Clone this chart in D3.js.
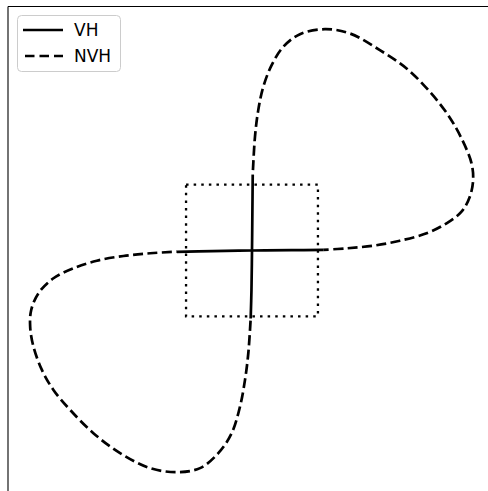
<!DOCTYPE html>
<html>
<head>
<meta charset="utf-8">
<script src="https://cdn.jsdelivr.net/npm/d3@7"></script>
<style>
  html, body { margin: 0; padding: 0; background: #ffffff; }
  svg { display: block; }
</style>
</head>
<body>
<svg id="chart" width="488" height="491"></svg>
<script>
// Central arms of the curve (VH), in data units
const vhHorizontal = [[-1.14, -0.02], [-0.6, -0.008], [0, 0], [0.6, 0.005], [1.08, 0.01]];
const vhVertical = [[0.011, 1.15], [0.006, 0.6], [0, 0], [-0.008, -0.6], [-0.02, -1.03]];

// Outer loops of the curve (NVH), in data units
const nvhUpperLoop = [
  [0.011, 1.144], [0.045, 1.724], [0.095, 2.129], [0.171, 2.482], [0.298, 2.811],
  [0.474, 3.088], [0.727, 3.280], [1.106, 3.356], [1.485, 3.291], [1.939, 3.038],
  [2.344, 2.761], [2.697, 2.406], [2.974, 2.053], [3.177, 1.700], [3.329, 1.321],
  [3.353, 1.068], [3.303, 0.815], [3.177, 0.588], [2.950, 0.412], [2.647, 0.261],
  [2.242, 0.148], [1.838, 0.073], [1.435, 0.033], [1.08, 0.01]
];
const nvhLowerLoop = [
  [-1.141, -0.018], [-1.545, -0.042], [-1.950, -0.083], [-2.353, -0.155], [-2.708, -0.270],
  [-3.011, -0.421], [-3.238, -0.648], [-3.348, -0.902], [-3.364, -1.155], [-3.314, -1.458],
  [-3.186, -1.811], [-3.011, -2.114], [-2.758, -2.417], [-2.405, -2.770], [-2.000, -3.073],
  [-1.545, -3.300], [-1.141, -3.361], [-0.788, -3.300], [-0.511, -3.073], [-0.308, -2.770],
  [-0.182, -2.367], [-0.106, -1.962], [-0.056, -1.558], [-0.02, -1.03]
];

// Dotted reference square
const boxCorners = [[-1, 1], [1, 1], [1, -1], [-1, -1]];

const legendLabels = ["VH", "NVH"];

const svg = d3.select("#chart");

const x = d3.scaleLinear().domain([-3.7, 3.7]).range([8, 496]);
const y = d3.scaleLinear().domain([-3.7, 3.7]).range([494.5, 6.5]);

const line = d3.line()
  .x(d => x(d[0]))
  .y(d => y(d[1]))
  .curve(d3.curveCatmullRom.alpha(0.5));

const lw = 2.7;

// reference square
svg.append("path")
  .attr("d", d3.line().x(d => x(d[0])).y(d => y(d[1]))(boxCorners) + "Z")
  .attr("fill", "none")
  .attr("stroke", "#000")
  .attr("stroke-width", 2.3)
  .attr("stroke-dasharray", "2.5 5.1");

// outer loops
[nvhUpperLoop, nvhLowerLoop].forEach(loop => {
  svg.append("path")
    .attr("d", line(loop))
    .attr("fill", "none")
    .attr("stroke", "#000")
    .attr("stroke-width", lw)
    .attr("stroke-dasharray", "10 4.4")
    .attr("stroke-dashoffset", -5);
});

// central arms
[vhHorizontal, vhVertical].forEach(arm => {
  svg.append("path")
    .attr("d", line(arm))
    .attr("fill", "none")
    .attr("stroke", "#000")
    .attr("stroke-width", lw);
});

// spines (left and top)
svg.append("line")
  .attr("x1", x(-3.7)).attr("x2", x(-3.7))
  .attr("y1", y(3.7)).attr("y2", 491)
  .attr("stroke", "#000").attr("stroke-width", 1.1);
svg.append("line")
  .attr("x1", x(-3.7)).attr("x2", 488)
  .attr("y1", y(3.7)).attr("y2", y(3.7))
  .attr("stroke", "#000").attr("stroke-width", 1.1);

// legend
const legend = svg.append("g").attr("transform", "translate(17.5,15.5)");
legend.append("rect")
  .attr("width", 103).attr("height", 56)
  .attr("rx", 4).attr("ry", 4)
  .attr("fill", "#fff").attr("fill-opacity", 0.8)
  .attr("stroke", "#cccccc").attr("stroke-width", 1);

legendLabels.forEach((lab, i) => {
  const ly = 14.5 + i * 26;
  legend.append("line")
    .attr("x1", 5.5).attr("x2", 45.5)
    .attr("y1", ly).attr("y2", ly)
    .attr("stroke", "#000").attr("stroke-width", lw)
    .attr("stroke-dasharray", i === 1 ? "9.5 5" : null)
    .attr("stroke-dashoffset", i === 1 ? -2 : null);
  legend.append("text")
    .attr("x", 56.5).attr("y", ly)
    .attr("dy", "0.36em")
    .attr("font-family", "DejaVu Sans")
    .attr("font-size", 17)
    .attr("fill", "#000")
    .text(lab);
});
</script>
</body>
</html>
